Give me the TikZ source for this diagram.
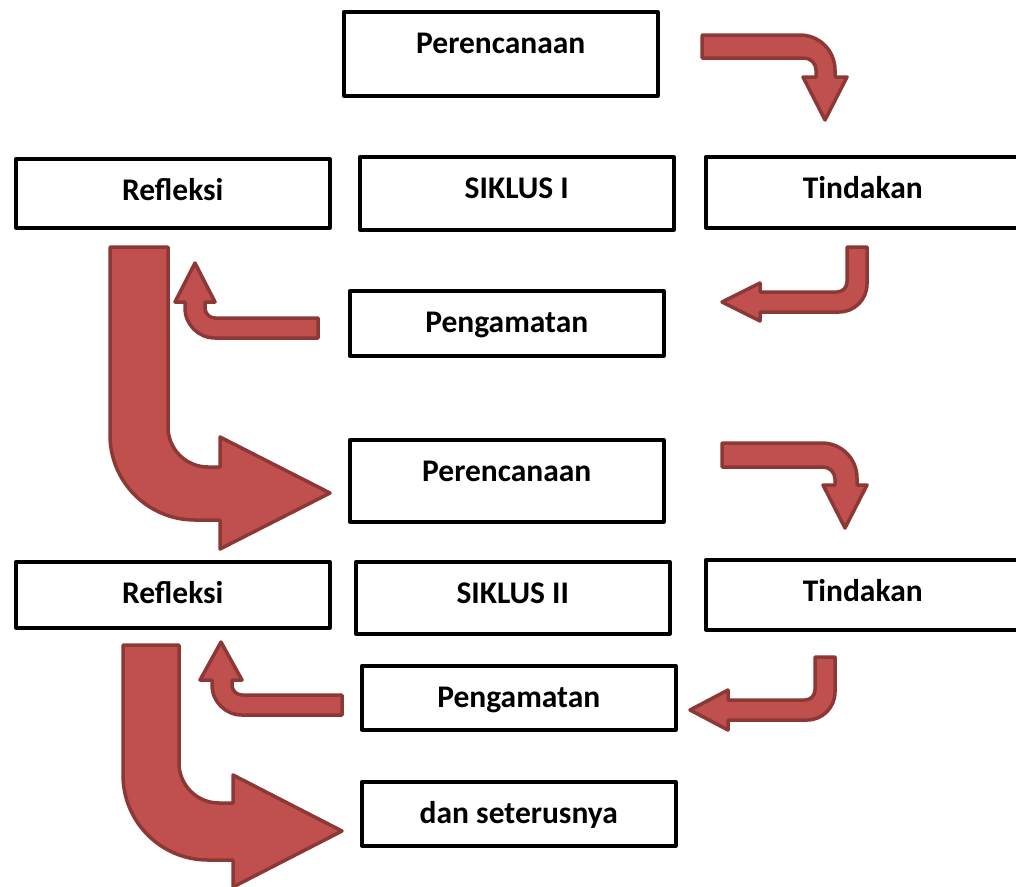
\documentclass[tikz,border=0pt]{standalone}
\usepackage{fontspec}
\setmainfont{Carlito}
\definecolor{merah}{HTML}{C0504D}
\definecolor{merahtua}{HTML}{8C3836}
\begin{document}
\begin{tikzpicture}[
  x=1pt, y=-1pt,
  kotak/.style={rectangle, draw, line width=3.5pt, line join=round, inner sep=0pt,
    minimum width=314pt, text height=42pt, text depth=#1, anchor=north west,
    font=\fontsize{31.5}{36}\selectfont\bfseries},
  panah/.style={draw=merahtua, fill=merah, line width=3.5pt, line join=round}
]
\useasboundingbox (0,0) rectangle (1016,886);
% siklus I
\node[kotak=42pt] (rencana1) at (342,10) {Perencanaan};
\node[kotak=27pt] (refleksi1) at (14,157) {Refleksi};
\node[kotak=31pt] (siklus1) at (358,155) {SIKLUS I};
\node[kotak=29pt] (tindakan1) at (704,155) {Tindakan};
\node[kotak=23pt] (amat1) at (348,289) {Pengamatan};
% siklus II
\node[kotak=40pt] (rencana2) at (348,438) {Perencanaan};
\node[kotak=24pt] (refleksi2) at (14,560) {Refleksi};
\node[kotak=30pt] (siklus2) at (354,560) {SIKLUS II};
\node[kotak=28pt] (tindakan2) at (704,558) {Tindakan};
\node[kotak=22pt] (amat2) at (360,664) {Pengamatan};
\node[kotak=22pt] (lanjut) at (360,780) {dan seterusnya};
% panah
\draw[panah] (702,35) [rounded corners=35pt] -- (835,35) [sharp corners] -- (835,77) -- (847,77) -- (825,120)
  -- (803,77) -- (816,77) [rounded corners=12pt] -- (816,58) [sharp corners] -- (702,58) -- cycle;
\draw[panah] (847,247) -- (867,247) [rounded corners=28pt] -- (867,312) [sharp corners] -- (760,312) -- (760,321)
  -- (722,302) -- (760,283) -- (760,292) [rounded corners=10pt] -- (847,292) [sharp corners] -- cycle;
\draw[panah] (318,318) -- (318,338) [rounded corners=30pt] -- (185,338) [sharp corners] -- (185,302) -- (175,302)
  -- (195,263) -- (215,302) -- (205,302) [rounded corners=10pt] -- (205,318) [sharp corners] -- cycle;
\draw[panah] (110,247) -- (168,247) [rounded corners=40pt] -- (168,467) [sharp corners] -- (220,467) -- (220,437)
  -- (330,493) -- (220,549) -- (220,520) [rounded corners=85pt] -- (110,520) [sharp corners] -- cycle;
\draw[panah] (722,443) [rounded corners=35pt] -- (857,443) [sharp corners] -- (857,485) -- (867,485) -- (845,528)
  -- (823,485) -- (835,485) [rounded corners=12pt] -- (835,467) [sharp corners] -- (722,467) -- cycle;
\draw[panah] (815,657) -- (835,657) [rounded corners=28pt] -- (835,720) [sharp corners] -- (728,720) -- (728,730)
  -- (690,710) -- (728,690) -- (728,700) [rounded corners=10pt] -- (815,700) [sharp corners] -- cycle;
\draw[panah] (342,695) -- (342,715) [rounded corners=30pt] -- (212,715) [sharp corners] -- (212,680) -- (200,680)
  -- (221,642) -- (242,680) -- (232,680) [rounded corners=10pt] -- (232,695) [sharp corners] -- cycle;
\draw[panah] (123,645) -- (179,645) [rounded corners=40pt] -- (179,803) [sharp corners] -- (233,803) -- (233,775)
  -- (342,831) -- (233,887) -- (233,860) [rounded corners=85pt] -- (123,860) [sharp corners] -- cycle;
\end{tikzpicture}
\end{document}
